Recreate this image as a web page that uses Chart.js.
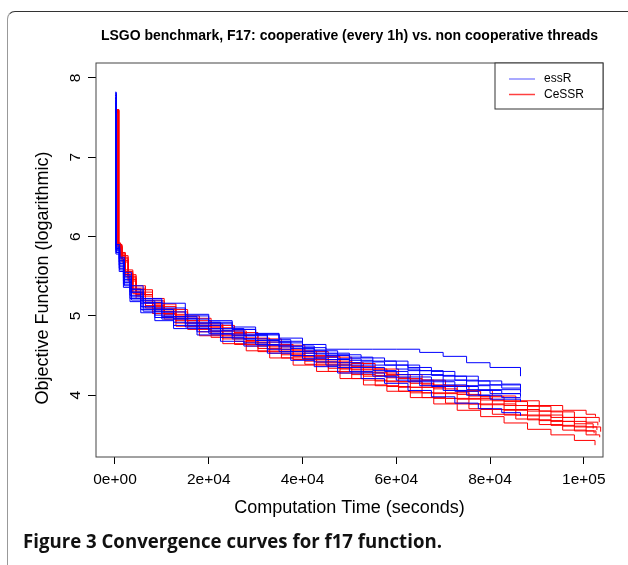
<!DOCTYPE html>
<html>
<head>
<meta charset="utf-8">
<script src="https://cdn.jsdelivr.net/npm/chart.js@4.4.1/dist/chart.umd.min.js"></script>
<style>
html,body{margin:0;padding:0;background:#fff;}
#wrap{position:relative;width:628px;height:565px;overflow:hidden;background:#fff;}
#frame{position:absolute;left:7px;top:11px;width:700px;height:700px;border-top:1px solid #333;border-left:1.5px solid #999;border-top-left-radius:8px;box-sizing:border-box;}
#c{position:absolute;left:0;top:0;}
#caption{position:absolute;left:23px;top:531px;font-family:"Open Sans",sans-serif;font-weight:700;font-size:19.5px;line-height:1;white-space:nowrap;transform-origin:0 0;color:#111;}
</style>
</head>
<body>
<div id="wrap">
  <div id="frame"></div>
  <canvas id="c" width="628" height="565"></canvas>
  <div id="caption">Figure 3 Convergence curves for f17 function.</div>
</div>
<script>
// ---------- data ----------
const chartTitle = 'LSGO benchmark, F17: cooperative (every 1h) vs. non cooperative threads';
const xAxisTitle = 'Computation Time (seconds)';
const yAxisTitle = 'Objective Function (logarithmic)';
const seriesNames = ['essR', 'CeSSR'];

const xTickValues = [0, 20000, 40000, 60000, 80000, 100000];
const xTickLabels = ['0e+00', '2e+04', '4e+04', '6e+04', '8e+04', '1e+05'];
const yTickValues = [4, 5, 6, 7, 8];
const yTickLabels = ['4', '5', '6', '7', '8'];

// essR (non cooperative) runs
const essRTimeA = [0, 300, 1000, 2000, 3500, 6000, 10000, 15000, 20000, 25000, 30000, 35000, 40000, 45000, 50000, 55000, 60000, 65000, 70000, 75000, 80000, 86500];
const essRTimeB = [0, 200, 900, 1800, 3200, 5500, 8500, 12500, 17500, 22500, 27500, 32500, 37500, 42500, 47500, 52500, 57500, 62500, 67500, 72500, 77500, 82500, 86500];
const essR1 = [7.82, 5.90, 5.74, 5.55, 5.38, 5.22, 5.10, 5.00, 4.94, 4.86, 4.78, 4.72, 4.64, 4.58, 4.58, 4.58, 4.58, 4.54, 4.49, 4.41, 4.35, 4.24];
const essR2 = [7.80, 5.88, 5.72, 5.52, 5.34, 5.19, 5.08, 4.99, 4.92, 4.84, 4.77, 4.70, 4.62, 4.56, 4.51, 4.47, 4.43, 4.35, 4.30, 4.24, 4.18, 4.14, 4.11];
const essR3 = [7.78, 5.86, 5.70, 5.50, 5.33, 5.17, 5.05, 4.96, 4.90, 4.83, 4.77, 4.68, 4.60, 4.53, 4.48, 4.43, 4.38, 4.31, 4.24, 4.18, 4.13, 4.09];
const essR4 = [7.75, 5.85, 5.68, 5.48, 5.30, 5.16, 5.05, 4.97, 4.88, 4.81, 4.75, 4.67, 4.59, 4.52, 4.46, 4.42, 4.38, 4.31, 4.25, 4.19, 4.13, 4.09, 4.06];
const essR5 = [7.80, 5.84, 5.66, 5.46, 5.30, 5.20, 5.16, 5.02, 4.92, 4.83, 4.76, 4.66, 4.57, 4.50, 4.44, 4.38, 4.33, 4.26, 4.19, 4.12, 4.07, 4.03];
const essR6 = [7.72, 5.83, 5.64, 5.44, 5.26, 5.12, 5.01, 4.92, 4.84, 4.77, 4.71, 4.63, 4.55, 4.48, 4.41, 4.35, 4.30, 4.23, 4.17, 4.11, 4.06, 4.02, 4.00];
const essR7 = [7.76, 5.82, 5.62, 5.42, 5.24, 5.10, 4.99, 4.90, 4.82, 4.75, 4.69, 4.61, 4.53, 4.45, 4.38, 4.31, 4.26, 4.19, 4.13, 4.07, 4.02, 3.98];
const essR8 = [7.70, 5.80, 5.60, 5.40, 5.22, 5.08, 4.98, 4.88, 4.80, 4.73, 4.66, 4.58, 4.50, 4.42, 4.35, 4.28, 4.23, 4.17, 4.11, 4.05, 4.00, 3.97, 3.96];
const essR9 = [7.74, 5.80, 5.58, 5.38, 5.20, 5.06, 4.96, 4.86, 4.78, 4.71, 4.64, 4.55, 4.46, 4.38, 4.30, 4.24, 4.19, 4.12, 4.06, 4.00, 3.95, 3.92];
const essR10 = [7.68, 5.78, 5.56, 5.36, 5.18, 5.04, 4.94, 4.84, 4.76, 4.68, 4.62, 4.53, 4.44, 4.36, 4.28, 4.21, 4.15, 4.06, 3.98, 3.90, 3.83, 3.78, 3.74];

// CeSSR (cooperative) runs
const cessrTimeC = [0, 800, 1200, 2200, 3800, 6500, 10500, 15500, 20500, 25500, 30500, 35500, 40500, 45500, 50500, 55500, 60500, 65500, 70500, 75500, 80500, 85500, 90500, 95500, 100500];
const cessrTimeD = [0, 650, 1500, 2800, 4500, 8000, 13000, 18000, 23000, 28000, 33000, 38000, 43000, 48000, 53000, 58000, 63000, 68000, 73000, 78000, 83000, 88000, 93000, 98000];
const cessrEndTime = [102500, 103300, 103000, 102000, 102800, 103600, 102200, 102600, 103400, 102400];
const cessr1 = [7.60, 5.92, 5.80, 5.58, 5.38, 5.22, 5.08, 4.97, 4.88, 4.79, 4.71, 4.63, 4.55, 4.48, 4.40, 4.33, 4.26, 4.19, 4.12, 4.06, 3.99, 3.93, 3.87, 3.81, 3.76, 3.73];
const cessr2 = [7.58, 5.90, 5.76, 5.52, 5.33, 5.15, 5.00, 4.90, 4.81, 4.72, 4.64, 4.56, 4.49, 4.41, 4.33, 4.26, 4.19, 4.12, 4.05, 3.98, 3.92, 3.86, 3.79, 3.72, 3.66];
const cessr3 = [7.60, 5.91, 5.79, 5.56, 5.35, 5.19, 5.05, 4.94, 4.85, 4.76, 4.67, 4.58, 4.50, 4.43, 4.36, 4.28, 4.21, 4.13, 4.06, 3.99, 3.93, 3.87, 3.80, 3.72, 3.66, 3.62];
const cessr4 = [7.57, 5.89, 5.74, 5.50, 5.30, 5.12, 4.97, 4.87, 4.78, 4.69, 4.61, 4.53, 4.45, 4.37, 4.29, 4.22, 4.15, 4.08, 4.01, 3.94, 3.87, 3.80, 3.72, 3.64, 3.58];
const cessr5 = [7.59, 5.90, 5.77, 5.54, 5.33, 5.16, 5.02, 4.91, 4.81, 4.72, 4.63, 4.55, 4.47, 4.39, 4.32, 4.25, 4.17, 4.10, 4.03, 3.96, 3.89, 3.82, 3.75, 3.67, 3.60, 3.56];
const cessr6 = [7.58, 5.88, 5.72, 5.48, 5.27, 5.09, 4.94, 4.84, 4.75, 4.66, 4.57, 4.49, 4.41, 4.33, 4.24, 4.17, 4.10, 4.02, 3.95, 3.88, 3.81, 3.74, 3.67, 3.60, 3.54];
const cessr7 = [7.60, 5.90, 5.76, 5.52, 5.30, 5.13, 4.99, 4.87, 4.77, 4.68, 4.59, 4.51, 4.43, 4.34, 4.26, 4.18, 4.10, 4.03, 3.96, 3.89, 3.82, 3.75, 3.68, 3.61, 3.55, 3.52];
const cessr8 = [7.57, 5.87, 5.70, 5.46, 5.25, 5.06, 4.91, 4.80, 4.71, 4.62, 4.53, 4.45, 4.37, 4.28, 4.19, 4.11, 4.03, 3.96, 3.89, 3.82, 3.75, 3.69, 3.62, 3.55, 3.50];
const cessr9 = [7.59, 5.89, 5.74, 5.50, 5.28, 5.10, 4.96, 4.83, 4.73, 4.64, 4.55, 4.47, 4.39, 4.30, 4.21, 4.12, 4.05, 3.97, 3.90, 3.83, 3.76, 3.70, 3.63, 3.56, 3.50, 3.47];
const cessr10 = [7.56, 5.86, 5.68, 5.44, 5.22, 5.03, 4.87, 4.75, 4.65, 4.56, 4.47, 4.38, 4.30, 4.21, 4.13, 4.05, 3.97, 3.89, 3.81, 3.73, 3.65, 3.57, 3.50, 3.43, 3.37];

// ---------- build ----------
const FONT = "'Liberation Sans', Arial, Helvetica, sans-serif";
const BLUE = '#0000ff';
const RED = '#ff0000';

function toPoints(times, values, endTime) {
  const xs = endTime === undefined ? times : times.concat([endTime]);
  return values.map((v, i) => ({ x: xs[i], y: v }));
}
function lineDs(label, data, color) {
  // best-so-far curve: hold the value, then drop (step-before)
  return { label, data, borderColor: color, borderWidth: 1, pointRadius: 0, stepped: 'before', fill: false, tension: 0 };
}

const essRRuns = [
  [essRTimeA, essR1], [essRTimeB, essR2], [essRTimeA, essR3], [essRTimeB, essR4], [essRTimeA, essR5],
  [essRTimeB, essR6], [essRTimeA, essR7], [essRTimeB, essR8], [essRTimeA, essR9], [essRTimeB, essR10]
];
const cessrRuns = [
  [cessrTimeC, cessr1], [cessrTimeD, cessr2], [cessrTimeC, cessr3], [cessrTimeD, cessr4], [cessrTimeC, cessr5],
  [cessrTimeD, cessr6], [cessrTimeC, cessr7], [cessrTimeD, cessr8], [cessrTimeC, cessr9], [cessrTimeD, cessr10]
];

const datasets = [];
essRRuns.forEach(([t, v]) => datasets.push(lineDs(seriesNames[0], toPoints(t, v), BLUE)));
cessrRuns.forEach(([t, v], i) => datasets.push(lineDs(seriesNames[1], toPoints(t, v, cessrEndTime[i]), RED)));

const frameLegendPlugin = {
  id: 'frameLegend',
  afterDatasetsDraw(chart) {
    const { ctx, chartArea: a } = chart;
    ctx.save();
    ctx.strokeStyle = '#444';
    ctx.lineWidth = 1;
    ctx.strokeRect(a.left, a.top, a.right - a.left, a.bottom - a.top);
    // legend box (top right, inside plot)
    const lw = 108, lh = 46;
    const lx = a.right - lw, ly = a.top;
    ctx.fillStyle = '#fff';
    ctx.fillRect(lx, ly, lw, lh);
    ctx.strokeStyle = '#333';
    ctx.strokeRect(lx, ly, lw, lh);
    const cols = ['rgba(0,0,255,0.45)', 'rgba(255,0,0,0.75)'];
    const rows = [ly + 16, ly + 31.5];
    ctx.font = '12px ' + FONT;
    ctx.textBaseline = 'middle';
    ctx.textAlign = 'left';
    seriesNames.forEach((name, i) => {
      ctx.strokeStyle = cols[i];
      ctx.lineWidth = 1.5;
      ctx.beginPath();
      ctx.moveTo(lx + 14, rows[i]);
      ctx.lineTo(lx + 40, rows[i]);
      ctx.stroke();
      ctx.fillStyle = '#000';
      ctx.fillText(name, lx + 49, rows[i]);
    });
    // y axis title (rotated, reading bottom to top)
    ctx.translate(43, (a.top + a.bottom) / 2 + 18);
    ctx.rotate(-Math.PI / 2);
    ctx.font = '18px ' + FONT;
    ctx.textAlign = 'center';
    ctx.fillStyle = '#000';
    ctx.fillText(yAxisTitle, 0, 0);
    ctx.restore();
  }
};

Chart.defaults.font.family = FONT;
Chart.defaults.color = '#000';

new Chart(document.getElementById('c'), {
  type: 'line',
  data: { datasets },
  plugins: [frameLegendPlugin],
  options: {
    responsive: false,
    animation: false,
    layout: { padding: { top: 0, left: 0, right: 25, bottom: 0 } },
    plugins: {
      legend: { display: false },
      tooltip: { enabled: false },
      title: {
        display: true, text: chartTitle, fullSize: false, color: '#000',
        font: { family: FONT, size: 14, weight: 'bold' },
        padding: { top: 27.5, bottom: 18.7 }
      }
    },
    scales: {
      x: {
        type: 'linear', min: -4050, max: 104100,
        afterBuildTicks: s => { s.ticks = xTickValues.map(v => ({ value: v })); },
        afterFit: s => { s.height = 108; },
        ticks: {
          autoSkip: false, maxRotation: 0, minRotation: 0, padding: 6, color: '#000',
          font: { family: FONT, size: 15.5 },
          callback: v => xTickLabels[xTickValues.indexOf(v)]
        },
        grid: { drawOnChartArea: false, drawTicks: true, tickLength: 7, color: '#000', lineWidth: 1 },
        border: { display: false },
        title: { display: true, text: xAxisTitle, color: '#000', font: { family: FONT, size: 18 }, padding: { top: 0, bottom: 46 } }
      },
      y: {
        type: 'linear', min: 3.221, max: 8.189,
        afterBuildTicks: s => { s.ticks = yTickValues.map(v => ({ value: v })); },
        afterFit: s => { s.width = 96; },
        ticks: {
          autoSkip: false, minRotation: 90, maxRotation: 90, crossAlign: 'center', padding: 7.6, color: '#000',
          font: { family: FONT, size: 15.5 },
          callback: v => yTickLabels[yTickValues.indexOf(v)]
        },
        grid: { drawOnChartArea: false, drawTicks: true, tickLength: 8, color: '#000', lineWidth: 1 },
        border: { display: false },
        title: { display: false }
      }
    }
  }
});

// fit caption width to the reference (about 419 px)
function fitCaption() {
  const el = document.getElementById('caption');
  el.style.transform = 'none';
  const w = el.getBoundingClientRect().width;
  if (w > 0) el.style.transform = 'scaleX(' + (419 / w) + ')';
}
fitCaption();
if (document.fonts && document.fonts.ready) document.fonts.ready.then(fitCaption);
</script>
</body>
</html>
